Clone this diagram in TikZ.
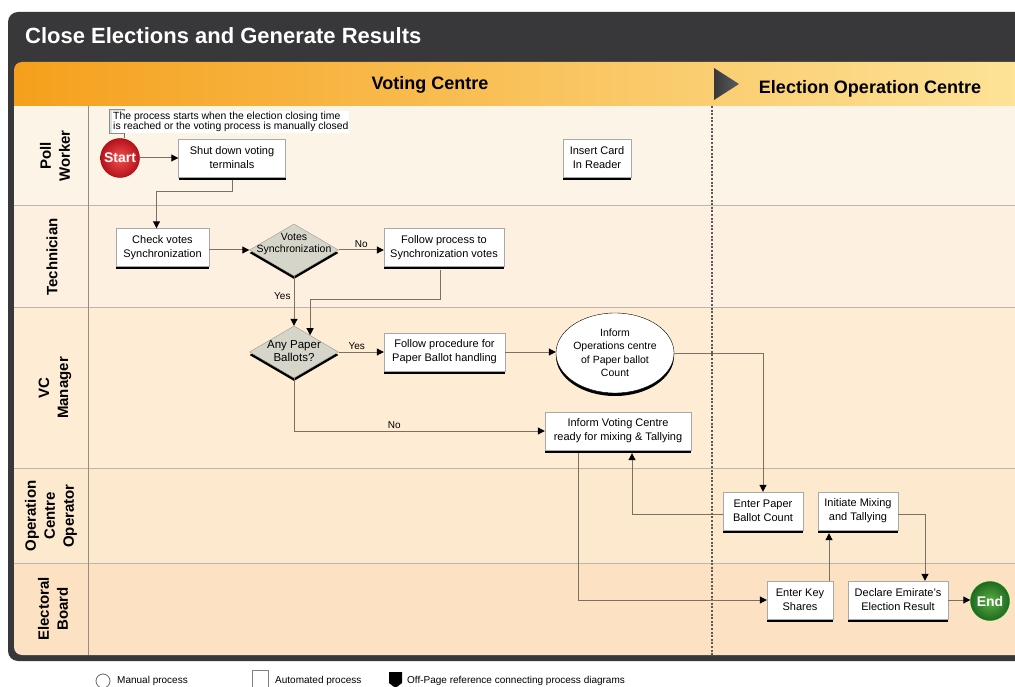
\documentclass[tikz,border=0pt]{standalone}
\usepackage{fontspec}
\setmainfont{Liberation Sans}
\usetikzlibrary{shapes.geometric,arrows.meta,calc,shadows}

\definecolor{frameDark}{HTML}{38383A}
\definecolor{frameMid}{HTML}{5A5D5F}
\definecolor{hdrOrange}{HTML}{F5A01C}
\definecolor{hdrYellow}{HTML}{FCCA1E}
\definecolor{hdrPale}{HTML}{FDE49A}
\definecolor{laneA}{HTML}{FDF4E8}
\definecolor{laneB}{HTML}{FDF0E0}
\definecolor{laneC}{HTML}{FEECD4}
\definecolor{laneD}{HTML}{FDE9CE}
\definecolor{laneE}{HTML}{FCE2C2}
\definecolor{sepLine}{HTML}{BDB6AA}
\definecolor{connC}{HTML}{7A7064}
\definecolor{boxEdge}{HTML}{A8A8A8}
\definecolor{diaFill}{HTML}{D6D5C9}
\definecolor{diaEdge}{HTML}{9A9A90}
\definecolor{startIn}{HTML}{F55050}
\definecolor{startOut}{HTML}{B5121C}
\definecolor{endIn}{HTML}{5DB040}
\definecolor{endOut}{HTML}{1E6A22}

\begin{document}
\begin{tikzpicture}[x=1pt,y=-1pt,
  every node/.style={font=\fontsize{11}{14}\selectfont, inner sep=1pt},
  barshadow/.style={drop shadow={shadow xshift=0pt, shadow yshift=-3pt, fill=black, opacity=1}},
  procbox/.style={draw=boxEdge, fill=white, align=center, inner sep=2pt,
    minimum height=38, barshadow},
  decision/.style={diamond, draw=diaEdge, fill=diaFill, minimum width=89,
    minimum height=52, inner sep=0pt, barshadow},
  manual/.style={ellipse, draw=black, fill=white, align=center, inner sep=0pt,
    minimum width=96, minimum height=80, barshadow},
  terminal/.style={circle, draw=#1!60!black, minimum size=39, inner sep=0pt,
    font=\bfseries\fontsize{14}{16}\selectfont, text=white},
  conn/.style={draw=connC, line width=1pt, -{Triangle[length=7pt,width=7pt,color=black]}},
  flowlabel/.style={font=\fontsize{10}{12}\selectfont},
  lanelab/.style={rotate=90, align=center, font=\bfseries\fontsize{15}{19}\selectfont},
  legendtext/.style={anchor=west, font=\fontsize{10}{12}\selectfont},
]
\useasboundingbox (0,0) rectangle (1015,687);
\clip (0,0) rectangle (1015,687);
\fill[white] (0,0) rectangle (1015,687);

% dark outer frame with title
\shade[rounded corners=10pt, left color=frameDark, middle color=frameMid, right color=frameDark]
  (8,12) rectangle (1040,661);
\node[anchor=base west, text=white, font=\bfseries\fontsize{22}{26}\selectfont]
  (title) at (24,44) {Close Elections and Generate Results};

% header band
\shade[left color=hdrOrange, middle color=hdrYellow, right color=hdrPale]
  (14,106) [rounded corners=8pt] -- (14,62) -- (1040,62) [sharp corners] -- (1040,106) -- cycle;
\draw[black!55, line width=0.8pt] (14,106) -- (1015,106);
\node[font=\bfseries\fontsize{18}{20}\selectfont] (vc) at (430,85) {Voting Centre};
\shade[left color=frameDark, right color=frameMid] (714,68) -- (739,84) -- (714,100) -- cycle;
\node[font=\bfseries\fontsize{18}{20}\selectfont] (eoc) at (870,89) {Election Operation Centre};

% swim lanes
\fill[laneA] (14,106.4) rectangle (1040,206);
\fill[laneB] (14,206) rectangle (1040,307);
\fill[laneC] (14,307) rectangle (1040,468);
\fill[laneD] (14,468) rectangle (1040,563);
\fill[laneE] (14,563) [rounded corners=8pt] -- (14,655) [sharp corners] -- (1040,655) -- (1040,563) -- cycle;
\foreach \yy in {206,307,468,563}
  \draw[sepLine, line width=1pt] (14,\yy) -- (1015,\yy);
\draw[connC!80, line width=0.8pt] (88,106) -- (88,655);
\draw[black!65, line width=1.3pt, dash pattern=on 2pt off 1.6pt] (712,106) -- (712,655);

\node[lanelab] (lpw) at (55,156) {Poll\\Worker};
\node[lanelab] (lte) at (52,257) {Technician};
\node[lanelab] (lvm) at (55,388) {VC\\Manager};
\node[lanelab] (loo) at (51,516) {Operation\\Centre\\Operator};
\node[lanelab] (leb) at (53,609) {Electoral\\Board};

% annotation
\draw[black!45, fill=black!12, line width=0.8pt] (109,109) rectangle (124,133);
\node[fill=white, align=left, inner sep=1pt, anchor=north west,
  font=\fontsize{10.4}{10}\selectfont] (note) at (112,111)
  {The process starts when the election closing time\\is reached or the voting process is manually closed};

% process nodes
\node[terminal=red, inner color=startIn, outer color=startOut] (start) at (120,158) {Start};
\node[procbox, minimum width=107] (shut) at (232,158) {Shut down voting\\terminals};
\node[procbox, minimum width=68] (card) at (597,158) {Insert Card\\In Reader};
\node[procbox, minimum width=93] (check) at (162.5,247.5) {Check votes\\Synchronization};
\node[decision] (vs) at (294,250) {};
\node[align=center, font=\fontsize{10.5}{11.5}\selectfont] (vstext) at (294,244) {Votes\\Synchronization};
\node[procbox, minimum width=120] (fol1) at (444,247.5) {Follow process to\\Synchronization votes};
\node[decision] (ap) at (294,352) {};
\node[align=center, font=\fontsize{11.5}{12.5}\selectfont] (aptext) at (294,351) {Any Paper\\Ballots?};
\node[procbox, minimum width=121] (fol2) at (444.5,352) {Follow procedure for\\Paper Ballot handling};
\node[manual, font=\fontsize{10.5}{13.5}\selectfont] (inf) at (615,353) {Inform\\Operations centre\\of Paper ballot\\Count};
\node[procbox, minimum width=146] (ivc) at (618,431) {Inform Voting Centre\\ready for mixing \& Tallying};
\node[procbox, minimum width=80] (ep) at (763,511) {Enter Paper\\Ballot Count};
\node[procbox, minimum width=80] (ini) at (858,511) {Initiate Mixing\\and Tallying};
\node[procbox, minimum width=66] (keys) at (800,600) {Enter Key\\Shares};
\node[procbox, minimum width=100] (dec) at (898,600) {Declare Emirate's\\Election Result};
\node[terminal=green, inner color=endIn, outer color=endOut] (endn) at (990,601) {End};

% connectors
\draw[connC, line width=1pt] (124,133) -- (start.north -| 124,0);
\draw[conn] (start.east) -- (start.east -| shut.west);
\draw[conn] ([yshift=-3pt]shut.south) -- ++(0,11) -| ([xshift=-6pt]check.north);
\draw[conn] (check.east |- vs.west) -- (vs.west);
\draw[conn] (vs.east) -- (vs.east -| fol1.west)
  node[flowlabel, midway, above=1pt] (lno1) {No};
\draw[conn] (vs.south) -- (ap.north)
  node[flowlabel, pos=0.4, left=2pt] (lyes1) {Yes};
\draw[conn] ([xshift=-4pt,yshift=-3pt]fol1.south) -- ++(0,30) -| ($(ap.north)!0.36!(ap.east)$);
\draw[conn] (ap.east) -- (ap.east -| fol2.west)
  node[flowlabel, pos=0.4, above=1pt] (lyes2) {Yes};
\draw[conn] (fol2.east) -- (fol2.east -| inf.west);
\draw[conn] (inf.east) -| (ep.north);
\draw[conn] (ap.south) |- (ivc.west)
  node[flowlabel, pos=0.7, above=1pt] (lno2) {No};
\draw[conn] ([xshift=-40pt,yshift=-3pt]ivc.south) |- (keys.west);
\draw[conn] ([yshift=-3pt]ep.west) -| ([xshift=14pt,yshift=-3pt]ivc.south);
\coordinate (kup) at ([xshift=29pt]keys.north);
\draw[conn] (kup) -- ($(kup |- ini.south)+(0,3)$);
\draw[conn] ([yshift=-3pt]ini.east) -| ([xshift=27pt]dec.north);
\draw[conn] (dec.east) -- (dec.east -| endn.west);

% legend
\draw[black!60, line width=0.8pt] (103,681) circle (7);
\node[legendtext] (lg1) at (116,680.5) {Manual process};
\draw[black!50, line width=0.8pt] (252,670) rectangle (268,690);
\node[legendtext] (lg2) at (274,680.5) {Automated process};
\fill[black] (389,672) -- (402,672) -- (402,683) -- (395.5,688) -- (389,683) -- cycle;
\node[legendtext] (lg3) at (406,680.5) {Off-Page reference connecting process diagrams};
\end{tikzpicture}
\end{document}
